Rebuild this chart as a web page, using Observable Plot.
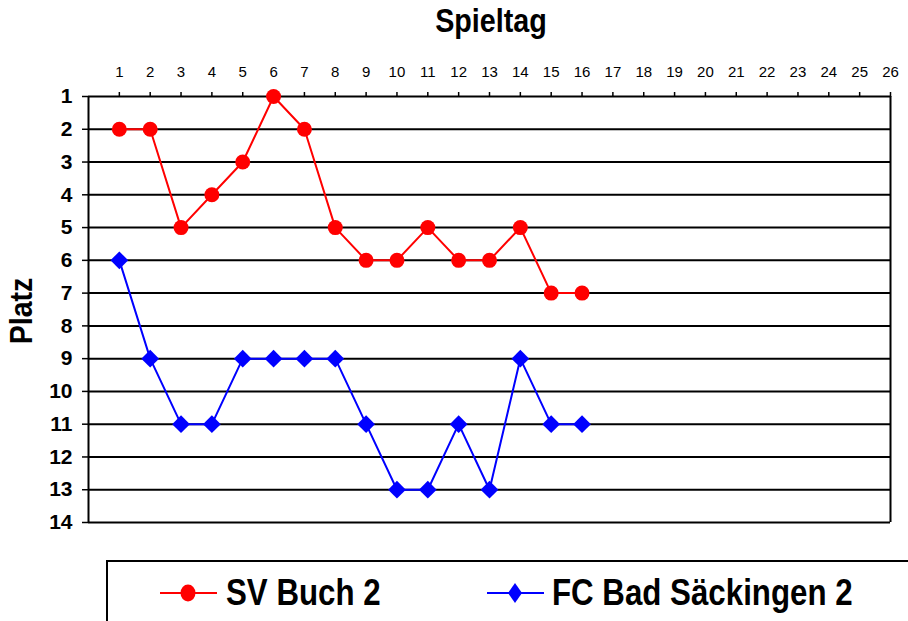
<!DOCTYPE html>
<html>
<head>
<meta charset="utf-8">
<script src="https://cdn.jsdelivr.net/npm/d3@7"></script>
<script src="https://cdn.jsdelivr.net/npm/@observablehq/plot@0.6"></script>
<style>
  html, body { margin: 0; padding: 0; background: #fff; overflow: hidden; }
  #wrap { position: relative; width: 908px; height: 621px; overflow: hidden; font-family: "Liberation Sans", Arial, sans-serif; }
  #wrap > svg { position: absolute; left: 0; top: 0; }
  .big { position: absolute; font-weight: bold; color: #000; white-space: nowrap; line-height: 1; }
  #legendbox { position: absolute; left: 106px; top: 560px; width: 830px; height: 100px; border: 2px solid #000; box-sizing: border-box; }
</style>
</head>
<body>
<div id="wrap"></div>
<script>
// ---- data ----
const spieltage = d3.range(1, 17);
const svBuch = [2, 2, 5, 4, 3, 1, 2, 5, 6, 6, 5, 6, 6, 5, 7, 7];
const fcBad = [6, 9, 11, 11, 9, 9, 9, 9, 11, 13, 13, 11, 13, 9, 11, 11];
const xTicks = d3.range(1, 27);
const yTicks = d3.range(1, 15);
const seriesNames = ["SV Buch 2", "FC Bad Säckingen 2"];
const seriesColors = ["#ff0000", "#0000ff"];
const titleText = "Spieltag";
const yTitle = "Platz";

const red = spieltage.map((d, i) => ({x: d, y: svBuch[i]}));
const blue = spieltage.map((d, i) => ({x: d, y: fcBad[i]}));

const plot = Plot.plot({
  width: 908,
  height: 621,
  marginTop: 96,
  marginLeft: 88,
  marginRight: 18,
  marginBottom: 99,
  x: {domain: [0, 26]},
  y: {domain: [1, 14], reverse: true},
  style: {background: "transparent", fontFamily: "'Liberation Sans', Arial, sans-serif", color: "#000"},
  marks: [
    Plot.ruleY(yTicks, {stroke: "#000", strokeWidth: 2}),
    Plot.ruleX([0, 26], {stroke: "#000", strokeWidth: 2}),
    Plot.axisX(xTicks, {anchor: "top", tickSize: 5, tickPadding: 15, fontSize: 15, stroke: "#000", strokeWidth: 1.5, label: null, tickFormat: d => String(d)}),
    Plot.axisY(yTicks, {anchor: "left", tickSize: 6, tickPadding: 10, fontSize: 21, fontWeight: "bold", stroke: "#000", strokeWidth: 1.5, label: null, tickFormat: d => String(d)}),
    Plot.line(red, {x: "x", y: "y", stroke: seriesColors[0], strokeWidth: 2}),
    Plot.dot(red, {x: "x", y: "y", r: 7.5, fill: seriesColors[0], stroke: null}),
    Plot.line(blue, {x: "x", y: "y", stroke: seriesColors[1], strokeWidth: 2}),
    Plot.dot(blue, {x: "x", y: "y", symbol: "diamond2", r: 8, fill: seriesColors[1], stroke: null})
  ]
});
const wrap = document.getElementById("wrap");
wrap.appendChild(plot);

// Title
const t = document.createElement("div");
t.className = "big";
t.textContent = titleText;
t.style.fontSize = "33px";
t.style.left = "491px";
t.style.top = "4px";
t.style.transform = "translateX(-50%) scaleX(0.87)";
wrap.appendChild(t);

// Y title
const yt = document.createElement("div");
yt.className = "big";
yt.textContent = yTitle;
yt.style.fontSize = "31px";
yt.style.left = "21px";
yt.style.top = "311px";
yt.style.transform = "translate(-50%, -50%) rotate(-90deg) scaleX(0.92)";
wrap.appendChild(yt);

// Legend
const lb = document.createElement("div");
lb.id = "legendbox";
wrap.appendChild(lb);

const legendItems = [
  {name: seriesNames[0], color: seriesColors[0], sym: "circle", lx: 160, tx: 226},
  {name: seriesNames[1], color: seriesColors[1], sym: "diamond", lx: 487, tx: 552}
];
const ns = "http://www.w3.org/2000/svg";
legendItems.forEach(it => {
  const s = document.createElementNS(ns, "svg");
  s.setAttribute("width", 60);
  s.setAttribute("height", 30);
  s.style.position = "absolute";
  s.style.left = it.lx + "px";
  s.style.top = "578px";
  const ln = document.createElementNS(ns, "line");
  ln.setAttribute("x1", 0); ln.setAttribute("x2", 57);
  ln.setAttribute("y1", 15); ln.setAttribute("y2", 15);
  ln.setAttribute("stroke", it.color); ln.setAttribute("stroke-width", 2);
  s.appendChild(ln);
  if (it.sym === "circle") {
    const c = document.createElementNS(ns, "ellipse");
    c.setAttribute("cx", 28); c.setAttribute("cy", 15);
    c.setAttribute("rx", 7.5); c.setAttribute("ry", 8.5);
    c.setAttribute("fill", it.color);
    s.appendChild(c);
  } else {
    const p = document.createElementNS(ns, "path");
    p.setAttribute("d", "M28,5 L35,15 L28,25 L21,15 Z");
    p.setAttribute("fill", it.color);
    s.appendChild(p);
  }
  wrap.appendChild(s);
  const tx = document.createElement("div");
  tx.className = "big";
  tx.textContent = it.name;
  tx.style.fontSize = "37px";
  tx.style.left = it.tx + "px";
  tx.style.top = "574px";
  tx.style.transformOrigin = "0 0";
  tx.style.transform = "scaleX(0.845)";
  wrap.appendChild(tx);
});
</script>
</body>
</html>
